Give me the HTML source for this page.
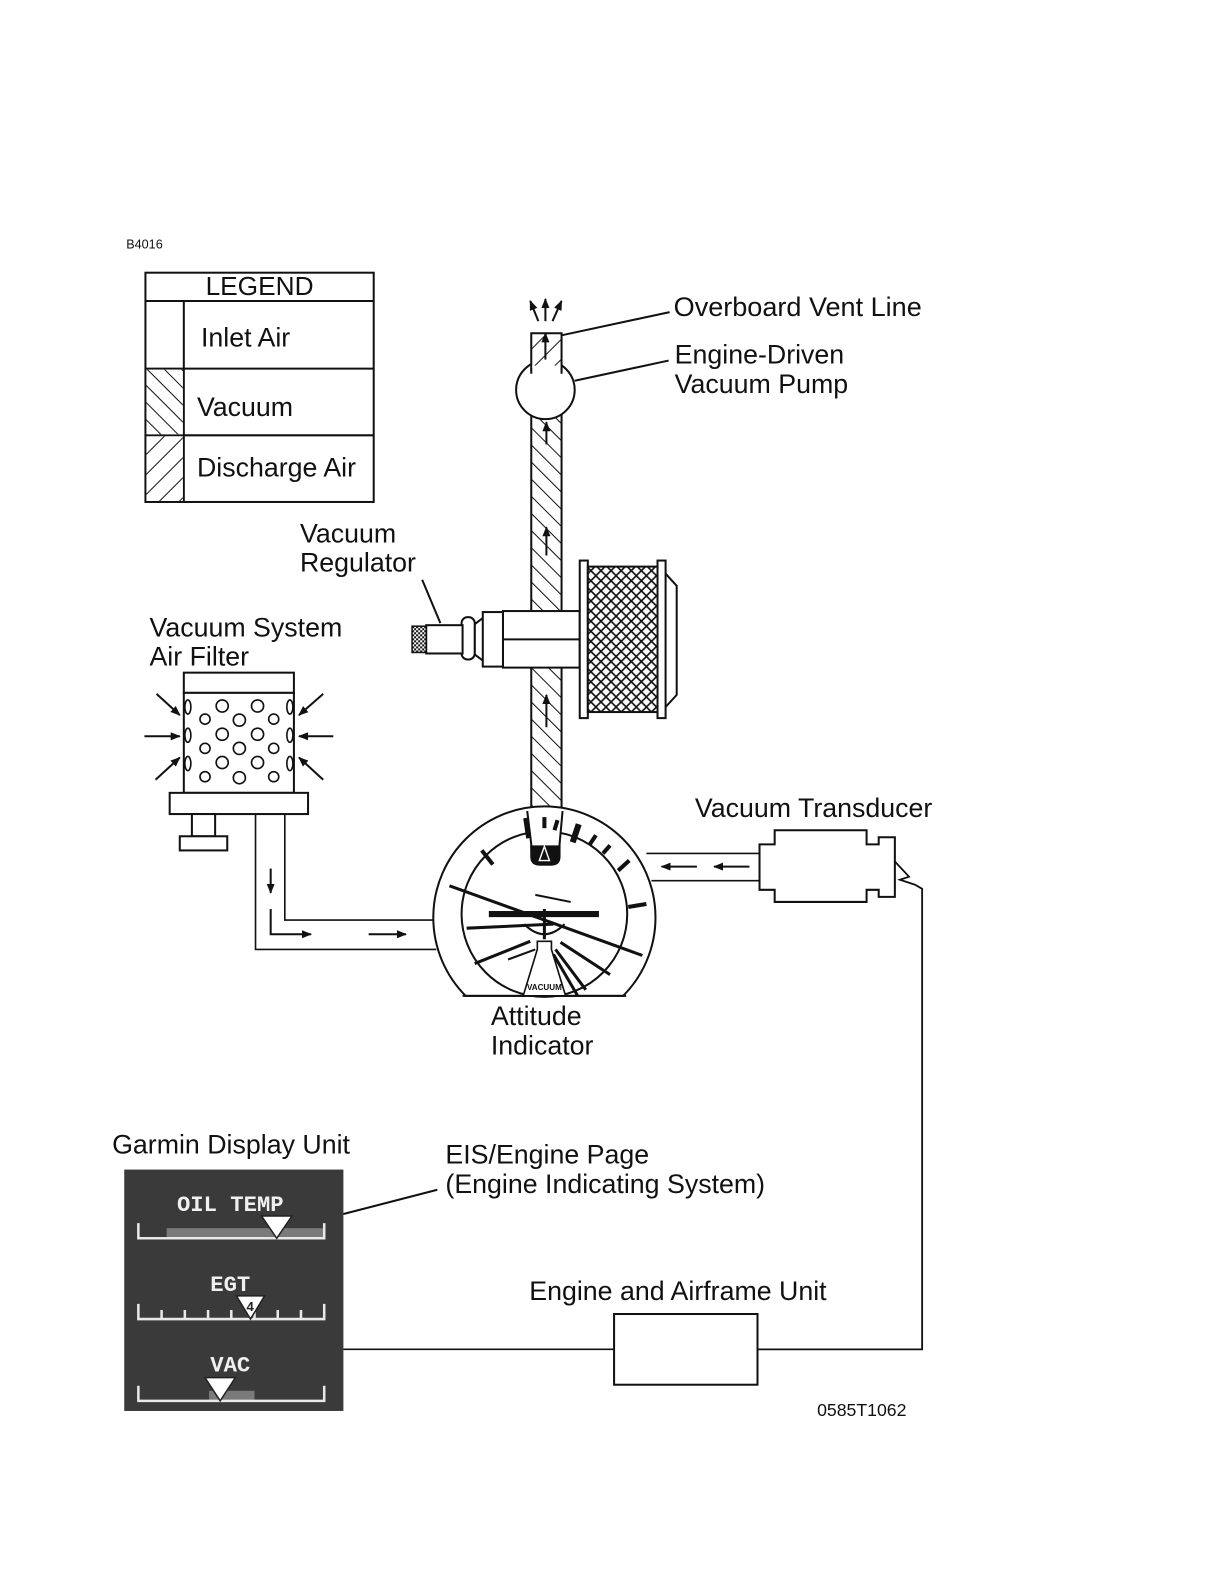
<!DOCTYPE html>
<html><head><style>
html,body{margin:0;padding:0;background:#fff;}
svg{display:block;}
text{font-family:"Liberation Sans",Arial,sans-serif;fill:#111;}
</style></head><body>
<svg width="1224" height="1584" viewBox="0 0 1224 1584" xmlns="http://www.w3.org/2000/svg">
<defs>
<pattern id="vac" patternUnits="userSpaceOnUse" width="12" height="12" patternTransform="rotate(-45)">
<rect width="12" height="12" fill="#fff"/><line x1="0" y1="0" x2="0" y2="12" stroke="#111" stroke-width="2"/></pattern>
<pattern id="dis" patternUnits="userSpaceOnUse" width="14" height="14" patternTransform="rotate(45)">
<rect width="14" height="14" fill="#fff"/><line x1="0" y1="0" x2="0" y2="14" stroke="#111" stroke-width="2"/></pattern>
<pattern id="mesh" patternUnits="userSpaceOnUse" width="10" height="10">
<rect width="10" height="10" fill="#fff"/><path d="M0 0L10 10M10 0L0 10" stroke="#111" stroke-width="1.6"/></pattern>
<pattern id="dots" patternUnits="userSpaceOnUse" width="4" height="4">
<rect width="4" height="4" fill="#fff"/><rect width="2" height="2" fill="#111"/><rect x="2" y="2" width="2" height="2" fill="#111"/></pattern>
<marker id="ah" markerWidth="10" markerHeight="8" refX="9" refY="4" orient="auto" markerUnits="userSpaceOnUse">
<path d="M0 0L10 4L0 8z" fill="#111"/></marker>
</defs>
<g transform="scale(1.01)">
<g stroke="#111" stroke-width="2" fill="none">

<rect x="144" y="270" width="226" height="227" fill="#fff"/>
<line x1="144" y1="298" x2="370" y2="298"/>
<line x1="182" y1="298" x2="182" y2="497"/>
<line x1="144" y1="365" x2="370" y2="365"/>
<line x1="144" y1="431" x2="370" y2="431"/>
<rect x="145" y="366" width="36" height="64" fill="url(#vac)" stroke="none"/>
<rect x="145" y="432" width="36" height="64" fill="url(#dis)" stroke="none"/>

<rect x="526" y="410" width="30" height="196" fill="url(#vac)"/>
<rect x="526" y="660" width="30" height="142" fill="url(#vac)"/>
<line x1="541" y1="440" x2="541" y2="418" marker-end="url(#ah)"/>
<line x1="541" y1="550" x2="541" y2="522" marker-end="url(#ah)"/>
<line x1="541" y1="720" x2="541" y2="688" marker-end="url(#ah)"/>

<circle cx="540" cy="386" r="29" fill="#fff"/>
<rect x="526" y="330" width="30" height="35" fill="url(#dis)" stroke="none"/>
<path d="M526 367V330H556V367" />
<rect x="527" y="362" width="28" height="10" fill="#fff" stroke="none"/>
<path d="M526 365V370M556 365V370"/>
<line x1="540" y1="356" x2="540" y2="330" marker-end="url(#ah)"/>
<line x1="540" y1="318" x2="540" y2="296" marker-end="url(#ah)"/>
<line x1="533" y1="318" x2="525" y2="298" marker-end="url(#ah)"/>
<line x1="547" y1="318" x2="556" y2="298" marker-end="url(#ah)"/>
<line x1="556" y1="332" x2="663" y2="309"/>
<line x1="569" y1="377" x2="662" y2="357"/>

<rect x="498" y="605" width="76" height="56" fill="#fff"/>
<line x1="498" y1="633" x2="574" y2="633"/>
<rect x="478" y="606" width="20" height="54" fill="#fff"/>
<path d="M478 612L470 618V648L478 654"/>
<rect x="457" y="611" width="13" height="42" rx="6" fill="#fff"/>
<rect x="422" y="619" width="36" height="28" fill="#fff"/>
<rect x="408" y="620" width="14" height="26" fill="url(#dots)" stroke-width="1.5"/>
<line x1="418" y1="574" x2="436" y2="617"/>
<rect x="574" y="555" width="8" height="156" fill="#fff"/>
<rect x="582" y="561" width="69" height="144" fill="url(#mesh)"/>
<rect x="651" y="555" width="8" height="156" fill="#fff"/>
<path d="M659 568L670 580V688L659 700"/>

<rect x="182" y="666" width="109" height="20" fill="#fff"/>
<rect x="182" y="686" width="109" height="99" fill="#fff"/>
<g stroke-width="1.6">
<ellipse cx="186" cy="700" rx="3" ry="7"/><ellipse cx="287" cy="700" rx="3" ry="7"/>
<circle cx="220" cy="699" r="6"/><circle cx="255" cy="699" r="6"/>
<circle cx="203" cy="712" r="5"/><circle cx="237" cy="713" r="6"/><circle cx="271" cy="712" r="5"/>
<ellipse cx="186" cy="728" rx="3" ry="7"/><ellipse cx="287" cy="728" rx="3" ry="7"/>
<circle cx="220" cy="727" r="6"/><circle cx="255" cy="727" r="6"/>
<circle cx="203" cy="741" r="5"/><circle cx="237" cy="741" r="6"/><circle cx="271" cy="741" r="5"/>
<ellipse cx="186" cy="756" rx="3" ry="7"/><ellipse cx="287" cy="756" rx="3" ry="7"/>
<circle cx="220" cy="755" r="6"/><circle cx="255" cy="755" r="6"/>
<circle cx="203" cy="769" r="5"/><circle cx="237" cy="770" r="6"/><circle cx="271" cy="769" r="5"/>
</g>
<rect x="168" y="785" width="137" height="21" fill="#fff"/>
<rect x="190" y="806" width="23" height="22" fill="#fff"/>
<rect x="178" y="828" width="47" height="14" fill="#fff"/>
<line x1="155" y1="687" x2="178" y2="708" marker-end="url(#ah)"/>
<line x1="143" y1="729" x2="178" y2="729" marker-end="url(#ah)"/>
<line x1="154" y1="772" x2="178" y2="750" marker-end="url(#ah)"/>
<line x1="320" y1="687" x2="296" y2="708" marker-end="url(#ah)"/>
<line x1="330" y1="729" x2="296" y2="729" marker-end="url(#ah)"/>
<line x1="320" y1="772" x2="296" y2="750" marker-end="url(#ah)"/>

<path d="M253 806V940H432M282 806V911H432" stroke-width="1.6"/>
<line x1="268" y1="860" x2="268" y2="884" marker-end="url(#ah)"/>
<path d="M268 900V925H308" marker-end="url(#ah)"/>
<line x1="365" y1="925" x2="402" y2="925" marker-end="url(#ah)"/>

<path d="M640 845H752M645 872H752" stroke-width="1.6"/>
<line x1="690" y1="858" x2="655" y2="858" marker-end="url(#ah)"/>
<line x1="742" y1="858" x2="707" y2="858" marker-end="url(#ah)"/>
<path d="M752 836H767V822H858V836H870V829H886V888H870V881H858V893H767V881H752Z" fill="#fff"/>
<path d="M886 853L900 868L891 871L906 876L913 880V1336H751" stroke-width="1.8"/>
<path d="M340 1336H608" stroke-width="1.6"/>
<rect x="608" y="1301" width="142" height="70" fill="#fff"/>

<path d="M461 986A110 110 0 1 1 617 986Z" fill="#fff"/>
<circle cx="539" cy="905" r="82" fill="#fff"/>
<path d="M458 986H620"/>
<path d="M522 803L526 836V848Q526 856 534 856H546Q554 856 554 848V836L557 803" fill="#fff"/>
<path d="M526 838Q526 856 534 856H546Q554 856 554 838Z" fill="#111"/>
<path d="M534 852L539 838L544 852Z" stroke="#fff" stroke-width="1.4"/>
<g stroke-width="4">
<line x1="520" y1="810" x2="523" y2="830"/>
<line x1="539" y1="809" x2="539" y2="820"/>
<line x1="552" y1="812" x2="549" y2="822"/>
<line x1="573" y1="816" x2="567" y2="834" stroke-width="6"/>
<line x1="590" y1="827" x2="584" y2="836"/>
<line x1="604" y1="837" x2="597" y2="845"/>
<line x1="623" y1="852" x2="612" y2="862"/>
<line x1="640" y1="895" x2="622" y2="898"/>
<line x1="477" y1="842" x2="488" y2="856"/>
<line x1="445" y1="877" x2="636" y2="946" stroke-width="3"/>
<line x1="462" y1="919" x2="548" y2="915" stroke-width="3"/>
<line x1="484" y1="905" x2="593" y2="905" stroke-width="6"/>
<line x1="530" y1="886" x2="565" y2="893" stroke-width="2"/>
<line x1="470" y1="954" x2="525" y2="932" stroke-width="3"/>
<line x1="503" y1="950" x2="530" y2="940" stroke-width="2"/>
<line x1="555" y1="933" x2="604" y2="965" stroke-width="3"/>
<line x1="550" y1="940" x2="580" y2="980" stroke-width="3"/>
</g>
<path d="M519 915Q539 935 559 915" stroke-width="2"/>
<path d="M539 900V930M530 905H548" stroke-width="3"/>
<path d="M532 932H546V940L560 986H518L532 940Z" fill="#fff" stroke-width="1.6"/>
<line x1="548" y1="945" x2="572" y2="986" stroke-width="3"/>

<rect x="123" y="1158" width="217" height="239" fill="#3a3a3a" stroke="none"/>
<line x1="340" y1="1202" x2="433" y2="1178"/>
</g>

<g stroke="#e8e8e8" stroke-width="2.5" fill="none">
<rect x="165" y="1216" width="155" height="9" fill="#7a7a7a" stroke="none"/>
<path d="M137 1211V1226H321V1211"/>
<path d="M137 1291V1306H321V1291M160 1297V1306M183 1297V1306M206 1297V1306M229 1297V1306M252 1297V1306M275 1297V1306M298 1297V1306"/>
<rect x="207" y="1377" width="45" height="9" fill="#7a7a7a" stroke="none"/>
<path d="M137 1372V1387H321V1372"/>
</g>
<path d="M259 1204H289L274 1226Z" fill="#fff" stroke="#222" stroke-width="1.5"/>
<path d="M234 1283H262L248 1306Z" fill="#fff" stroke="#222" stroke-width="1.5"/>
<text x="244" y="1298" font-size="13" font-weight="bold" style="fill:#222">4</text>
<path d="M203 1364H233L218 1387Z" fill="#fff" stroke="#222" stroke-width="1.5"/>
<g font-weight="bold" font-size="22" text-anchor="middle">
<text x="228" y="1199" style="fill:#f0f0f0;font-family:'Liberation Mono',monospace">OIL TEMP</text>
<text x="228" y="1278" style="fill:#f0f0f0;font-family:'Liberation Mono',monospace">EGT</text>
<text x="228" y="1358" style="fill:#f0f0f0;font-family:'Liberation Mono',monospace">VAC</text>
</g>

<text x="125" y="246" font-size="12.5">B4016</text>
<text x="257" y="292" font-size="26" text-anchor="middle">LEGEND</text>
<text x="199" y="343" font-size="26.5">Inlet Air</text>
<text x="195" y="412" font-size="26.5">Vacuum</text>
<text x="195" y="472" font-size="26.5">Discharge Air</text>
<text x="667" y="313" font-size="26.8">Overboard Vent Line</text>
<text x="668" y="360" font-size="26.5">Engine-Driven</text>
<text x="668" y="389" font-size="26.5">Vacuum Pump</text>
<text x="297" y="537" font-size="26.5">Vacuum</text>
<text x="297" y="566" font-size="26.5">Regulator</text>
<text x="148" y="630" font-size="26.5">Vacuum System</text>
<text x="148" y="659" font-size="26.5">Air Filter</text>
<text x="688" y="809" font-size="26.5">Vacuum Transducer</text>
<text x="486" y="1015" font-size="26.5">Attitude</text>
<text x="486" y="1044" font-size="26.5">Indicator</text>
<text x="539" y="980" font-size="8" font-weight="bold" text-anchor="middle">VACUUM</text>
<text x="111" y="1142" font-size="26.5">Garmin Display Unit</text>
<text x="441" y="1152" font-size="26.5">EIS/Engine Page</text>
<text x="441" y="1181" font-size="26.5">(Engine Indicating System)</text>
<text x="524" y="1287" font-size="26.5">Engine and Airframe Unit</text>
<text x="809" y="1402" font-size="17.5">0585T1062</text>
</g>
</svg>
</body></html>
